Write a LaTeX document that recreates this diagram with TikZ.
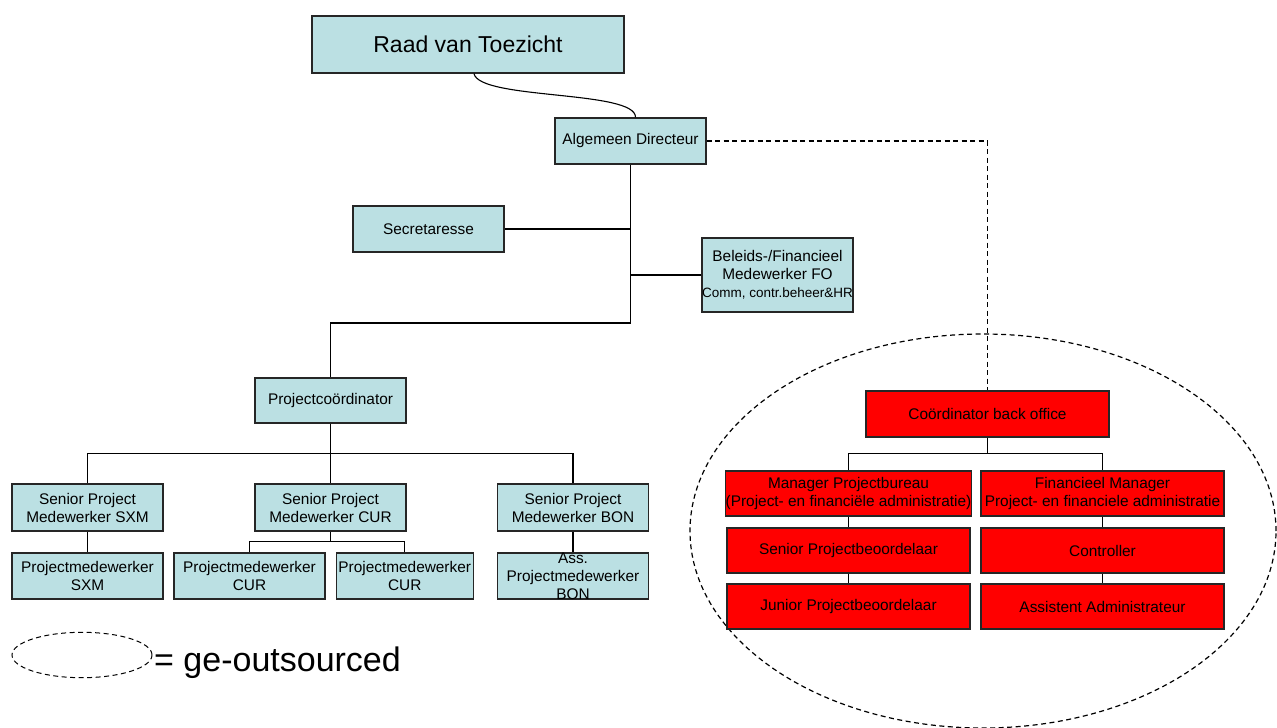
\documentclass[tikz,border=0pt]{standalone}
\usepackage{fontspec}
\setmainfont{Liberation Sans}
\definecolor{boxblue}{RGB}{187,224,227}
\begin{document}
\begin{tikzpicture}[x=1pt,y=-1pt,
  box/.style={draw=black!85, line width=1.4pt, inner sep=0pt, align=center, text=black, font=\fontsize{15.4}{18}\selectfont},
  bluebox/.style={box, fill=boxblue, minimum width=151pt, minimum height=46pt},
  redbox/.style={box, fill=red, minimum width=243pt, minimum height=45pt},
  txt/.style={inner sep=0pt, align=center, font=\fontsize{15.4}{18}\selectfont},
  conn/.style={line width=1.1pt, draw=black},
  dashlook/.style={line width=1.2pt, draw=black, dash pattern=on 5pt off 3.5pt}]
\useasboundingbox (0,0) rectangle (1277,728);

% outsourced ellipse
\draw[dashlook] (983,531) ellipse [x radius=293pt, y radius=197pt];

% top
\node[bluebox, minimum width=312pt, minimum height=57pt, font=\fontsize{23}{27}\selectfont] (raad) at (468,44.5) {Raad van Toezicht};
\node[bluebox] (alg) at (630.5,141) {Algemeen Directeur};
\node[bluebox] (sec) at (428.5,229) {Secretaresse};
\node[bluebox, minimum height=74pt] (bel) at (777.5,275) {Beleids-/Financieel\\Medewerker FO\\{\fontsize{13.5}{16}\selectfont Comm, contr.beheer\&HR}};
\node[bluebox, minimum height=45pt] (pc) at (330.5,400.5) {Projectcoördinator};

% left tree
\node[bluebox, minimum height=47pt] (sxm) at (87.5,507.5) {Senior Project\\Medewerker SXM};
\node[bluebox, minimum height=47pt] (cur) at (330.5,507.5) {Senior Project\\Medewerker CUR};
\node[bluebox, minimum height=47pt] (bon) at (573,507.5) {Senior Project\\Medewerker BON};
\node[bluebox] (psxm) at (87.5,576) {Projectmedewerker\\SXM};
\node[bluebox] (pcur1) at (249.5,576) {Projectmedewerker\\CUR};
\node[bluebox, minimum width=137pt] (pcur2) at (404.7,576) {Projectmedewerker\\CUR};
\node[bluebox] (bonass) at (573,576) {};
\node[txt] (bonasstxt) at (bonass.center) {Ass.\\Projectmedewerker\\BON};

% back office
\node[redbox, minimum height=46pt] (cbo) at (987.5,414) {Coördinator back office};
\node[redbox] (mpb) at (848.5,493.5) {Manager Projectbureau\\(Project- en financiële administratie)};
\node[redbox] (fm) at (1102.5,493.5) {Financieel Manager\\Project- en financiele administratie};
\node[redbox] (spb) at (848.5,550.5) {Senior Projectbeoordelaar};
\node[redbox] (ctrl) at (1102.5,550.5) {Controller};
\node[redbox] (jpb) at (848.5,606.5) {Junior Projectbeoordelaar};
\node[redbox] (asst) at (1102.5,606.5) {Assistent Administrateur};

% connectors
\draw[conn] ([xshift=6pt]raad.south) .. controls (480,100) and (636,90) .. ([xshift=5pt]alg.north);
\coordinate (j1) at (630.5,323);
\draw[conn] (alg.south) -- (j1) -| (pc.north);
\draw[conn] (sec.east) -- (sec.east -| alg.south);
\draw[conn] (bel.west) -- (bel.west -| alg.south);

\coordinate (pcbus) at (330.5,453.7);
\draw[conn] (pc.south) -- (pcbus);
\draw[conn] (sxm.north) |- (pcbus) -| (bon.north);
\draw[conn] (pcbus) -- (cur.north);
\draw[conn] (sxm.south) -- (psxm.north);
\coordinate (curbus) at (330.5,541.7);
\draw[conn] (cur.south) -- (curbus);
\draw[conn] (pcur1.north) |- (curbus) -| (pcur2.north);
\draw[conn] (bon.south) -- (bonass.north);

\coordinate (cbobus) at (987.5,453.7);
\draw[conn] (cbo.south) -- (cbobus);
\draw[conn] (mpb.north) |- (cbobus) -| (fm.north);
\draw[conn] (mpb.south) -- (spb.north);
\draw[conn] (spb.south) -- (jpb.north);
\draw[conn] (fm.south) -- (ctrl.north);
\draw[conn] (ctrl.south) -- (asst.north);

% dashed link
\coordinate (dc) at (987.5,141);
\draw[dashlook] (alg.east) -- (dc) -- (cbo.north);

% legend
\draw[dashlook, line width=1pt] (82,655) ellipse [x radius=70pt, y radius=22.7pt];
\node[anchor=base west, inner sep=0pt, font=\fontsize{34}{38}\selectfont] (leg) at (154,671) {= ge-outsourced};
\end{tikzpicture}
\end{document}
